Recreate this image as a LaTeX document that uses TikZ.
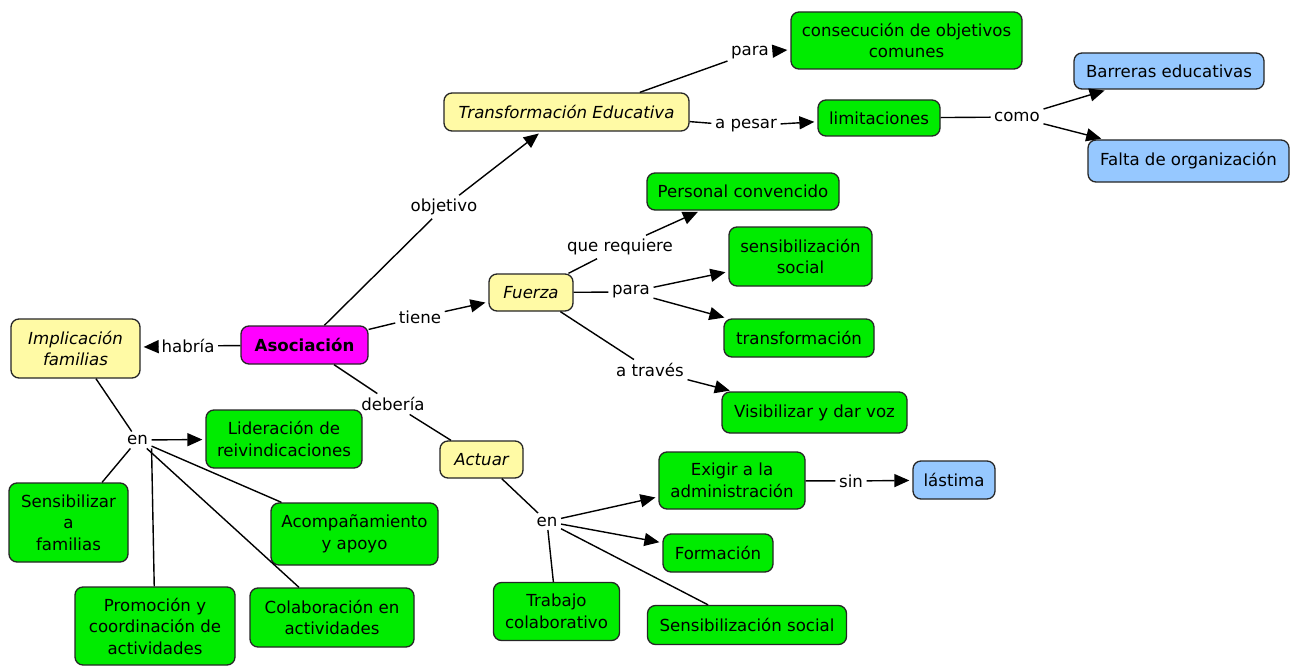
\documentclass[tikz,border=0pt]{standalone}
\usepackage{fontspec}
\setmainfont{DejaVu Sans}
\usetikzlibrary{arrows.meta}
\definecolor{cgreen}{RGB}{0,236,0}
\definecolor{cyellow}{RGB}{255,250,165}
\definecolor{cblue}{RGB}{150,200,255}
\definecolor{cmagenta}{RGB}{255,0,255}
\begin{document}
\begin{tikzpicture}[x=1pt,y=-1pt,
  font=\fontsize{16.6}{21.5}\selectfont,
  box/.style={draw=black!85, line width=1.3pt, rounded corners=8pt, align=center,
              inner sep=2pt, text=black},
  gbox/.style={box, fill=cgreen},
  ybox/.style={box, fill=cyellow, font=\fontsize{16.6}{21.5}\selectfont\itshape},
  bbox/.style={box, fill=cblue},
  mbox/.style={box, fill=cmagenta, font=\fontsize{16.6}{21.5}\selectfont\bfseries},
  lbl/.style={inner sep=3.5pt, text=black},
  conn/.style={line width=1.4pt, draw=black},
  arr/.style={conn, -{Triangle[length=15pt,width=13pt]}, shorten >=3pt},
]
\fill[white] (0,0) rectangle (1298,666);
\useasboundingbox (0,0) rectangle (1298,666);

% concepts
\node[mbox, minimum width=127pt, minimum height=38pt] (aso) at (304.5,345) {Asociación};
\node[ybox, minimum width=129pt, minimum height=59pt] (imp) at (75.5,348.5) {Implicación\\familias};
\node[ybox, minimum width=245pt, minimum height=38pt] (trans) at (566.5,112) {Transformación Educativa};
\node[gbox, minimum width=231pt, minimum height=57pt] (cons) at (906.5,40.5) {consecución de objetivos\\comunes};
\node[gbox, minimum width=122pt, minimum height=36pt] (lim) at (879,118) {limitaciones};
\node[bbox, minimum width=190pt, minimum height=36pt] (barr) at (1169,71) {Barreras educativas};
\node[bbox, minimum width=201pt, minimum height=42pt] (falta) at (1188.5,161) {Falta de organización};
\node[ybox, minimum width=84pt, minimum height=37pt] (fuerza) at (531,292.5) {Fuerza};
\node[gbox, minimum width=192pt, minimum height=37pt] (pers) at (743,191.5) {Personal convencido};
\node[gbox, minimum width=143pt, minimum height=59pt] (sens) at (800.5,256.5) {sensibilización\\social};
\node[gbox, minimum width=150pt, minimum height=38pt] (transf) at (799,338) {transformación};
\node[gbox, minimum width=185pt, minimum height=41pt] (visib) at (814.5,412.5) {Visibilizar y dar voz};
\node[ybox, minimum width=83pt, minimum height=37pt] (actuar) at (481.5,459.5) {Actuar};
\node[gbox, minimum width=146pt, minimum height=57pt] (exigir) at (732,480.5) {Exigir a la\\administración};
\node[bbox, minimum width=82pt, minimum height=38pt] (lastima) at (954,480) {lástima};
\node[gbox, minimum width=110pt, minimum height=38pt] (formac) at (718,553) {Formación};
\node[gbox, minimum width=199pt, minimum height=39pt] (sensoc) at (747,625) {Sensibilización social};
\node[gbox, minimum width=126pt, minimum height=58pt] (trab) at (556.5,611.5) {Trabajo\\colaborativo};
\node[gbox, minimum width=156pt, minimum height=58pt] (lider) at (284,439) {Lideración de\\reivindicaciones};
\node[gbox, minimum width=119pt, minimum height=79pt] (sensf) at (68.5,522.5) {Sensibilizar\\a\\familias};
\node[gbox, minimum width=167pt, minimum height=62pt] (acomp) at (354.5,534) {Acompañamiento\\y apoyo};
\node[gbox, minimum width=160pt, minimum height=78pt] (promo) at (155,626) {Promoción y\\coordinación de\\actividades};
\node[gbox, minimum width=164pt, minimum height=59pt] (colab) at (332,617.5) {Colaboración en\\actividades};

% linking phrases
\node[lbl] (habria) at (188,346) {habría};
\node[lbl] (objetivo) at (444,207) {objetivo};
\node[lbl] (tiene) at (420,317) {tiene};
\node[lbl] (para1) at (750,53) {para};
\node[lbl] (apesar) at (746,126) {a pesar};
\node[lbl] (como) at (1017,117) {como};
\node[lbl] (quereq) at (620,247) {que requiere};
\node[lbl] (para2) at (631,292) {para};
\node[lbl] (atraves) at (650,370) {a través};
\node[lbl] (deberia) at (393,404) {debería};
\node[lbl] (en1) at (137.5,440) {en};
\node[lbl] (en2) at (547,521.5) {en};
\node[lbl] (sin) at (851,481) {sin};

% connections
\draw[conn] (aso) -- (habria);
\draw[arr] (habria) -- (imp);
\draw[conn] (aso) -- (objetivo);
\draw[arr] (objetivo) -- (trans);
\draw[conn] (trans.15) -- (para1);
\draw[arr] (para1) -- (cons);
\draw[conn] (trans) -- (apesar);
\draw[arr] (apesar) -- (lim);
\draw[conn] (lim) -- (como);
\draw[arr] (como) -- (barr);
\draw[arr] (como) -- (falta);
\draw[conn] (aso) -- (tiene);
\draw[arr] (tiene) -- (fuerza);
\draw[conn] (fuerza) -- (quereq);
\draw[arr] (quereq) -- (pers);
\draw[conn] (fuerza) -- (para2);
\draw[arr] (para2) -- (sens);
\draw[arr] (para2) -- (transf);
\draw[conn] (fuerza) -- (atraves);
\draw[arr] (atraves) -- (visib);
\draw[conn] (aso) -- (deberia);
\draw[conn] (deberia) -- (actuar);
\draw[conn] (actuar) -- (en2);
\draw[arr] (en2) -- (exigir);
\draw[arr] (en2) -- (formac);
\draw[conn] (en2) -- (trab);
\draw[conn] (en2) -- (sensoc);
\draw[conn] (exigir) -- (sin);
\draw[arr] (sin) -- (lastima);
\draw[conn] (imp) -- (en1);
\draw[arr] (en1) -- (lider);
\draw[conn] (en1) -- (sensf);
\draw[conn] (en1.south east) -- (promo);
\draw[conn] (en1) -- (colab);
\draw[conn] (en1) -- (acomp);
\end{tikzpicture}
\end{document}
